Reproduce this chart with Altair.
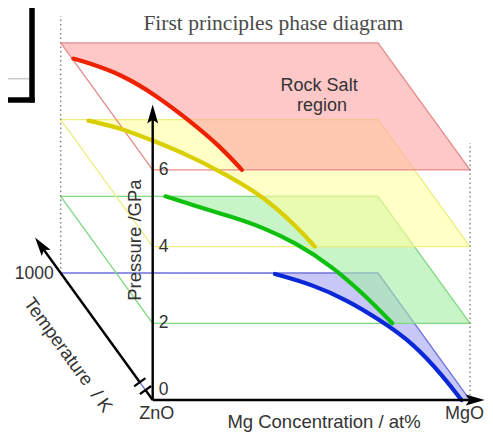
import altair as alt
import pandas as pd

# ---------------- data ----------------
plane_names = ["blue", "green", "yellow", "red"]
plane_pressure = [0, 2, 4, 6]          # GPa
conc_range = [0, 100]                  # at% Mg (ZnO -> MgO)
temp_range = [0, 1000]                 # K

# phase-boundary curves (temperature K, Mg concentration at%) on each pressure plane
red_T = [876, 843, 750, 593, 396, 173, 0]
red_c = [0.4, 4.1, 12.0, 17.9, 22.7, 26.8, 28.1]
yellow_T = [992, 932, 827, 722, 551, 394, 157, 0]
yellow_c = [8.5, 17.3, 24.7, 32.1, 40.3, 46.3, 50.0, 51.1]
green_T = [1000, 892, 845, 758, 632, 451, 207, 0]
green_c = [33.0, 43.5, 48.5, 56.5, 63.5, 69.5, 73.5, 75.5]
blue_T = [992, 906, 787, 630, 446, 180, 0]
blue_c = [67.3, 76.9, 84.0, 89.9, 95.1, 97.0, 97.3]

pressure_ticks = [0, 2, 4, 6]
temperature_ticks = [1000]
comp_labels = ["ZnO", "MgO"]

curves_T = dict(red=red_T, yellow=yellow_T, green=green_T, blue=blue_T)
curves_c = dict(red=red_c, yellow=yellow_c, green=green_c, blue=blue_c)

# ---------------- oblique projection ----------------
PXC = 3.173      # px per at%
PXP = 38.35      # px per GPa
TDX = 0.092      # px left per K
TDY = 0.127      # px up per K


def proj(c, T, P):
    return c - T * TDX / PXC, P + T * TDY / PXP


W, H = 477, 424
xs = alt.Scale(domain=[(8 - 152.7) / PXC, (W + 8 - 152.7) / PXC], nice=False, zero=False)
ys = alt.Scale(domain=[(400 - (H + 8)) / PXP, (400 - 8) / PXP], nice=False, zero=False)
X = alt.X("X:Q", scale=xs, axis=None)
Y = alt.Y("Y:Q", scale=ys, axis=None)
X2 = alt.X2("X2:Q")
Y2 = alt.Y2("Y2:Q")

fill_col = dict(red="#ffa3a3", yellow="#ffffa0", green="#a3eea3", blue="#a3a3f3")
fill_op = dict(red=0.6, yellow=0.6, green=0.6, blue=0.6)
edge_col = dict(red="#e88a8a", yellow="#eeee80", green="#80d880", blue="#7272e0")
curve_col = dict(red="#ee2200", yellow="#d9cf00", green="#10c010", blue="#0a28d8")

layers = []
for name, P in zip(plane_names, plane_pressure):
    Ts, cs = curves_T[name], curves_c[name]
    # rock-salt region polygon (right of the boundary)
    pts = []
    if Ts[0] < temp_range[1]:
        pts.append((conc_range[0], temp_range[1]))
    pts += list(zip(cs, Ts))
    pts += [(conc_range[1], temp_range[0]), (conc_range[1], temp_range[1])]
    if Ts[0] < temp_range[1]:
        pts.append((conc_range[0], temp_range[1]))
    rows = []
    for i, (c, T) in enumerate(pts):
        x, y = proj(c, T, P)
        rows.append(dict(X=x, Y=y, i=i))
    layers.append(
        alt.Chart(pd.DataFrame(rows))
        .mark_line(fill=fill_col[name], fillOpacity=fill_op[name], stroke="transparent", interpolate="linear")
        .encode(x=X, y=Y, order=alt.Order("i:Q"))
    )
    # plane outline
    corners = [(conc_range[0], temp_range[0]), (conc_range[1], temp_range[0]),
               (conc_range[1], temp_range[1]), (conc_range[0], temp_range[1]),
               (conc_range[0], temp_range[0])]
    rows = []
    for i, (c, T) in enumerate(corners):
        x, y = proj(c, T, P)
        rows.append(dict(X=x, Y=y, i=i))
    layers.append(
        alt.Chart(pd.DataFrame(rows))
        .mark_line(color=edge_col[name], strokeWidth=1.3)
        .encode(x=X, y=Y, order=alt.Order("i:Q"))
    )

# boundary curves
for name, P in zip(plane_names, plane_pressure):
    rows = []
    for i, (c, T) in enumerate(zip(curves_c[name], curves_T[name])):
        x, y = proj(c, T, P)
        rows.append(dict(X=x, Y=y, i=i))
    layers.append(
        alt.Chart(pd.DataFrame(rows))
        .mark_line(color=curve_col[name], strokeWidth=4.2, strokeCap="round", interpolate="basis")
        .encode(x=X, y=Y, order=alt.Order("i:Q"))
    )

# dotted vertical guides
top_P = 6.7
dots = []
for c, T in [(conc_range[0], temp_range[1]), (conc_range[1], temp_range[0])]:
    x, y = proj(c, T, 0)
    x2, y2 = proj(c, T, top_P)
    dots.append(dict(X=x, Y=y, X2=x2, Y2=y2))
layers.append(
    alt.Chart(pd.DataFrame(dots))
    .mark_rule(color="#8a8a8a", strokeWidth=1.5, strokeDash=[1.5, 3])
    .encode(x=X, y=Y, x2=X2, y2=Y2)
)

# axes lines
axis_rows = []
ox, oy = proj(0, 0, 0)
for end in [proj(0, 0, 7.4), proj(101.2, 0, 0)]:
    axis_rows.append(dict(X=ox, Y=oy, X2=end[0], Y2=end[1]))
for t0, t1 in [(0, 78), (140, 1225)]:
    a, b = proj(0, t0, 0), proj(0, t1, 0)
    axis_rows.append(dict(X=a[0], Y=a[1], X2=b[0], Y2=b[1]))
layers.append(
    alt.Chart(pd.DataFrame(axis_rows))
    .mark_rule(color="black", strokeWidth=2.4)
    .encode(x=X, y=Y, x2=X2, y2=Y2)
)
# axis break marks on the temperature axis
brk = []
hx, hy = 7 * 0.810 / PXC, 7 * 0.587 / PXP
for t in [78, 140]:
    bx, by = proj(0, t, 0)
    brk.append(dict(X=bx - hx, Y=by - hy, X2=bx + hx, Y2=by + hy))
layers.append(
    alt.Chart(pd.DataFrame(brk))
    .mark_rule(color="black", strokeWidth=2.2)
    .encode(x=X, y=Y, x2=X2, y2=Y2)
)

# arrow heads
arrow_shape = "M0,-1L0.52,0.8L0,0.45L-0.52,0.8Z"
heads = [
    (proj(0, 0, 7.43), 0),
    (proj(101.3, 0, 0), 90),
    (proj(0, 1212, 0), 324),
]
for (hxp, hyp), ang in heads:
    layers.append(
        alt.Chart(pd.DataFrame([dict(X=hxp, Y=hyp)]))
        .mark_point(shape=arrow_shape, size=440, filled=True, color="black", opacity=1, angle=ang)
        .encode(x=X, y=Y)
    )

FONT = "Liberation Sans"
TXT = "#333333"

# pressure tick labels
pt = pd.DataFrame([dict(X=proj(0, 0, p)[0], Y=proj(0, 0, p)[1], t=str(p)) for p in pressure_ticks if p > 0])
layers.append(
    alt.Chart(pt).mark_text(font=FONT, fontSize=17.5, color=TXT, align="left", baseline="middle", dx=6)
    .encode(x=X, y=Y, text="t:N")
)
p0 = pd.DataFrame([dict(X=proj(0, 0, 0)[0], Y=proj(0, 0, 0)[1], t=str(pressure_ticks[0]))])
layers.append(
    alt.Chart(p0).mark_text(font=FONT, fontSize=17.5, color=TXT, align="left", baseline="middle", dx=6, dy=-10)
    .encode(x=X, y=Y, text="t:N")
)
# temperature tick label
tt = pd.DataFrame([dict(X=proj(0, t, 0)[0], Y=proj(0, t, 0)[1], t=str(t)) for t in temperature_ticks])
layers.append(
    alt.Chart(tt).mark_text(font=FONT, fontSize=17.5, color=TXT, align="right", baseline="middle", dx=-7, dy=1)
    .encode(x=X, y=Y, text="t:N")
)
# composition end labels
for c, lab, ddx in zip(conc_range, comp_labels, [4, -5.5]):
    cl = pd.DataFrame([dict(X=proj(c, 0, 0)[0], Y=proj(c, 0, 0)[1], t=lab)])
    layers.append(
        alt.Chart(cl).mark_text(font=FONT, fontSize=18, color=TXT, align="center", baseline="middle", dx=ddx, dy=14)
        .encode(x=X, y=Y, text="t:N")
    )

# axis titles
xt = pd.DataFrame([dict(X=proj(54, 0, 0)[0], Y=proj(54, 0, 0)[1], t="Mg Concentration / at%")])
layers.append(
    alt.Chart(xt).mark_text(font=FONT, fontSize=18.5, color=TXT, align="center", baseline="middle", dy=22)
    .encode(x=X, y=Y, text="t:N")
)
yt = pd.DataFrame([dict(X=proj(0, 0, 4.17)[0], Y=proj(0, 0, 4.17)[1], t="Pressure /GPa")])
layers.append(
    alt.Chart(yt).mark_text(font=FONT, fontSize=18.5, color=TXT, align="center", baseline="middle", angle=270, dy=-18)
    .encode(x=X, y=Y, text="t:N")
)
tt2 = pd.DataFrame([dict(X=proj(0, 600, 0)[0], Y=proj(0, 600, 0)[1], t="Temperature\u00a0\u00a0/ K")])
layers.append(
    alt.Chart(tt2).mark_text(font=FONT, fontSize=18.5, color=TXT, align="center", baseline="middle", angle=54, dx=8, dy=42)
    .encode(x=X, y=Y, text="t:N")
)

# region label
rs = pd.DataFrame([
    dict(X=proj(71.7, 664, 6)[0], Y=proj(71.7, 664, 6)[1], t="Rock Salt"),
    dict(X=proj(68.0, 506, 6)[0], Y=proj(68.0, 506, 6)[1], t="region"),
])
layers.append(
    alt.Chart(rs).mark_text(font=FONT, fontSize=18, color=TXT, align="center", baseline="middle")
    .encode(x=X, y=Y, text="t:N")
)

# title
ti = pd.DataFrame([dict(X=proj(38, 0, 9.8)[0], Y=proj(38, 0, 9.8)[1], t="First principles phase diagram")])
layers.append(
    alt.Chart(ti).mark_text(font="Liberation Serif", fontSize=21.5, color="#4a4a4a", align="center", baseline="middle")
    .encode(x=X, y=Y, text="t:N")
)

# cropped frame remnant in the top-left corner
frame = pd.DataFrame([dict(a=0)])
layers.append(alt.Chart(frame).mark_rule(color="#cccccc", strokeWidth=1.5)
              .encode(x=alt.value(0), x2=alt.value(21), y=alt.value(70.7)))
layers.append(alt.Chart(frame).mark_rule(color="black", strokeWidth=5.5)
              .encode(x=alt.value(24), y=alt.value(0), y2=alt.value(94.5)))
layers.append(alt.Chart(frame).mark_rule(color="black", strokeWidth=5.5)
              .encode(x=alt.value(0), x2=alt.value(26.7), y=alt.value(92)))

chart = alt.layer(*layers).properties(
    width=W, height=H, padding=0, autosize=alt.AutoSizeParams(type="none"),
    background="white",
).configure_view(stroke=None)

chart.save("out.html", embed_options={"renderer": "svg", "actions": False})
